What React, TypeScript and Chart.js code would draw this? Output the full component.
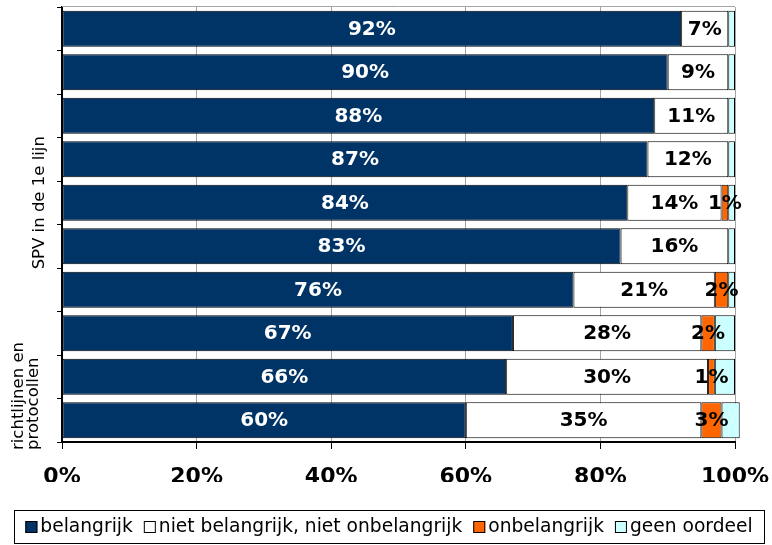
import React, { useEffect, useRef } from 'react';
import { Chart, registerables } from 'chart.js';

Chart.register(...registerables);

// Categories (top to bottom); only two labels are shown in the original
const categories: (string | string[])[] = ['', '', '', '', 'SPV in de 1e lijn', '', '', '', '', ['richtlijnen en', 'protocollen']];

const seriesNames = ['belangrijk', 'niet belangrijk, niet onbelangrijk', 'onbelangrijk', 'geen oordeel'];
const belangrijk = [92, 90, 88, 87, 84, 83, 76, 67, 66, 60];
const nietBelangrijk = [7, 9, 11, 12, 14, 16, 21, 28, 30, 35];
const onbelangrijk = [0, 0, 0, 0, 1, 0, 2, 2, 1, 3];
const geenOordeel = [1, 1, 1, 1, 1, 1, 1, 3, 3, 2.7];
const xTickValues = [0, 20, 40, 60, 80, 100];

const colors = ['#003366', '#FFFFFF', '#FF6600', '#CCFFFF'];
const FONT = '"DejaVu Sans", Verdana, sans-serif';

const valueLabels = {
  id: 'valueLabels',
  afterDatasetsDraw(chart: any) {
    const ctx = chart.ctx;
    ctx.save();
    ctx.font = `bold 20px ${FONT}`;
    ctx.textAlign = 'center';
    ctx.textBaseline = 'middle';
    [0, 1, 2].forEach((di) => {
      const meta = chart.getDatasetMeta(di);
      meta.data.forEach((el: any, i: number) => {
        const v = chart.data.datasets[di].data[i];
        if (!v) return;
        const p = el.getProps(['x', 'y', 'base'], true);
        ctx.fillStyle = di === 0 ? '#FFFFFF' : '#000000';
        ctx.fillText(Math.round(v) + '%', (p.x + p.base) / 2, p.y + 1);
      });
    });
    ctx.restore();
  },
};

const decorations = {
  id: 'decorations',
  beforeDatasetsDraw(chart: any) {
    const { ctx, chartArea } = chart;
    ctx.save();
    ctx.strokeStyle = '#a6a6a6';
    ctx.lineWidth = 1;
    ctx.beginPath();
    ctx.moveTo(chartArea.left, chartArea.top - 0.5);
    ctx.lineTo(chartArea.right, chartArea.top - 0.5);
    ctx.stroke();
    ctx.restore();
  },
  afterDraw(chart: any) {
    const { ctx, chartArea } = chart;
    const yScale = chart.scales.y;
    // category labels, rotated
    ctx.save();
    ctx.font = `16.5px ${FONT}`;
    ctx.fillStyle = '#000';
    ctx.textAlign = 'center';
    ctx.textBaseline = 'middle';
    const lh = 15;
    categories.forEach((lab, i) => {
      const lines = Array.isArray(lab) ? lab : [lab];
      if (!lines.join('')) return;
      const n = lines.length;
      const yc = yScale.getPixelForValue(i);
      const lastX = chartArea.left - 22 - (n - 1) * 6;
      lines.forEach((line, k) => {
        const w = ctx.measureText(line).width;
        let cy = yc;
        const limit = chartArea.bottom + 8;
        if (cy + w / 2 > limit) cy = limit - w / 2;
        const cx = lastX - (n - 1 - k) * lh;
        ctx.save();
        ctx.translate(cx, cy);
        ctx.rotate(-Math.PI / 2);
        ctx.fillText(line, 0, 0);
        ctx.restore();
      });
    });
    ctx.restore();

    // legend with border
    ctx.save();
    ctx.font = `18.67px ${FONT}`;
    ctx.textBaseline = 'middle';
    ctx.textAlign = 'left';
    const box = 12, gapBT = 3, gapItem = 11;
    const ds = chart.data.datasets;
    const widths = ds.map((d: any) => ctx.measureText(d.label).width);
    let total = 0;
    widths.forEach((w: number, i: number) => {
      total += box + gapBT + w + (i < widths.length - 1 ? gapItem : 0);
    });
    const cxm = chart.width / 2 + 3;
    let x = cxm - total / 2;
    const ly = 527;
    ctx.strokeStyle = '#000';
    ctx.lineWidth = 1;
    ctx.strokeRect(14.5, 510.5, 750, 33);
    ds.forEach((d: any, i: number) => {
      ctx.fillStyle = d.backgroundColor;
      ctx.fillRect(x, ly - box / 2, box, box);
      ctx.strokeRect(x + 0.5, ly - box / 2 + 0.5, box - 1, box - 1);
      ctx.fillStyle = '#000';
      ctx.fillText(d.label, x + box + gapBT, ly);
      x += box + gapBT + widths[i] + gapItem;
    });
    ctx.restore();
  },
};

export default function App() {
  const ref = useRef<HTMLCanvasElement>(null);
  useEffect(() => {
    document.body.style.margin = '0';
    if (!ref.current) return;
    const series = [belangrijk, nietBelangrijk, onbelangrijk, geenOordeel];
    const chart = new Chart(ref.current, {
      type: 'bar',
      data: {
        labels: categories as any,
        datasets: series.map((data, i) => ({
          label: seriesNames[i],
          data,
          backgroundColor: colors[i],
          borderColor: '#000000',
          borderWidth: 1,
          borderSkipped: false,
          barPercentage: 0.83,
          categoryPercentage: 1,
          clip: false as any,
        })),
      },
      options: {
        indexAxis: 'y',
        responsive: false,
        animation: false,
        layout: { padding: { top: 7, right: 37, bottom: 63, left: 0 } },
        plugins: { legend: { display: false }, tooltip: { enabled: false } },
        scales: {
          x: {
            stacked: true,
            min: 0,
            max: 100,
            afterBuildTicks: (s: any) => {
              s.ticks = xTickValues.map((v) => ({ value: v }));
            },
            afterFit: (s: any) => {
              s.height = 40;
              s.paddingLeft = 0;
              s.paddingRight = 0;
            },
            grid: { color: '#a6a6a6', lineWidth: 1, tickColor: '#000', tickLength: 7, drawTicks: true },
            border: { display: true, color: '#000', width: 2 },
            ticks: {
              color: '#000',
              font: { family: FONT, size: 22, weight: 'bold' },
              padding: 15,
              maxRotation: 0,
              autoSkip: false,
              callback: (v: any) => v + '%',
            },
          },
          y: {
            stacked: true,
            offset: true,
            grid: { offset: true, drawOnChartArea: false, tickLength: 5, color: '#000', tickColor: '#000' },
            border: { display: true, color: '#000', width: 2 },
            ticks: { display: false },
            afterFit: (s: any) => {
              s.width = 62;
            },
          },
        },
      },
      plugins: [valueLabels, decorations],
    });
    return () => chart.destroy();
  }, []);
  return (
    <div style={{ width: 772, height: 545 }}>
      <canvas ref={ref} width={772} height={545} style={{ display: 'block' }} />
    </div>
  );
}
